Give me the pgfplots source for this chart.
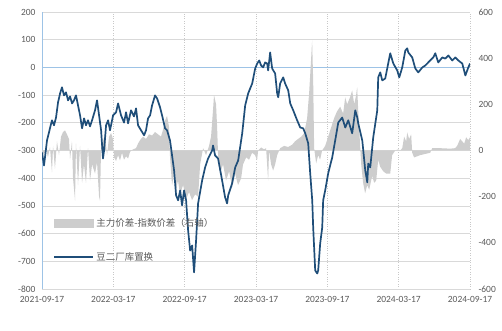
\documentclass[border=0pt]{standalone}
\usepackage{pgfplots}
\pgfplotsset{compat=1.18}
\usepackage{pgfplotstable}
\usepackage{fontspec}
\setmainfont{Carlito}
\newfontfamily\cjk{Noto Sans CJK SC}
\definecolor{lineblue}{HTML}{1F4E79}
\definecolor{areagray}{HTML}{CDCDCD}
\definecolor{gridgray}{HTML}{D9D9D9}
\definecolor{axblue}{HTML}{9DC3E6}
\definecolor{labgray}{HTML}{595959}
\definecolor{dotgray}{HTML}{C8C8C8}

\pgfplotstableread{
m v
0.00 -307
0.17 -354
0.42 -264
0.67 -220
0.84 -191
1.01 -209
1.18 -181
1.35 -126
1.52 -94
1.68 -72
1.85 -101
2.02 -90
2.19 -119
2.36 -105
2.53 -130
2.69 -119
2.86 -101
3.03 -137
3.20 -173
3.37 -220
3.54 -184
3.70 -209
3.87 -191
4.04 -213
4.21 -191
4.46 -155
4.63 -119
4.80 -173
4.97 -227
5.13 -329
5.22 -300
5.39 -209
5.56 -191
5.72 -227
5.98 -173
6.23 -162
6.40 -130
6.65 -173
6.90 -199
7.07 -162
7.24 -202
7.49 -155
7.74 -177
7.91 -148
8.08 -209
8.33 -227
8.59 -245
8.75 -227
8.92 -184
9.09 -173
9.26 -137
9.51 -101
9.68 -112
9.93 -144
10.10 -173
10.35 -220
10.52 -227
10.77 -264
10.94 -318
11.11 -372
11.28 -462
11.45 -480
11.62 -444
11.78 -498
11.95 -444
12.12 -480
12.29 -588
12.46 -661
12.63 -643
12.79 -740
12.96 -625
13.13 -491
13.47 -408
13.72 -361
13.97 -329
14.31 -300
14.39 -282
14.56 -318
14.81 -329
15.15 -408
15.40 -469
15.57 -491
15.66 -462
15.99 -419
16.25 -361
16.50 -336
16.84 -238
17.09 -137
17.34 -94
17.68 -58
17.93 -4
18.10 14
18.27 25
18.43 7
18.60 0
18.77 18
18.94 14
19.02 -11
19.19 54
19.36 -4
19.61 -22
19.78 -94
19.87 -108
20.03 -58
20.29 -36
20.45 -58
20.71 -83
20.88 -130
21.13 -155
21.46 -191
21.72 -217
21.97 -220
22.14 -238
22.39 -274
22.56 -383
22.73 -480
22.81 -578
22.98 -733
23.15 -744
23.23 -733
23.40 -635
23.57 -578
23.65 -480
23.82 -444
24.07 -383
24.41 -325
24.66 -264
24.92 -199
25.25 -181
25.51 -217
25.76 -191
26.09 -238
26.35 -155
26.52 -181
26.60 -202
26.94 -264
27.19 -372
27.36 -415
27.44 -347
27.61 -361
27.86 -253
28.20 -155
28.28 -36
28.45 -18
28.62 -47
28.87 -40
29.12 14
29.29 51
29.55 14
29.88 -11
30.05 -36
30.30 0
30.56 61
30.72 69
30.81 54
31.14 36
31.40 -4
31.65 -18
31.99 0
32.24 7
32.49 18
32.91 36
33.08 51
33.33 18
33.67 36
33.92 32
34.18 43
34.51 25
34.76 36
35.02 25
35.35 14
35.61 -29
35.86 0
36.00 14
}\linedata

\pgfplotstableread{
m r
0.00 0
0.17 -20
0.34 10
0.50 -30
0.67 15
0.84 -95
0.93 20
1.09 -80
1.26 40
1.43 -20
1.60 60
1.77 80
1.94 87
2.10 70
2.27 50
2.36 -40
2.52 40
2.61 -120
2.78 -217
2.86 30
3.03 -150
3.20 20
3.37 -140
3.53 -60
3.70 -140
3.87 10
4.04 -130
4.21 -60
4.46 -100
4.63 -50
4.80 -200
4.88 -217
4.97 20
5.13 40
5.30 70
5.47 -20
5.64 60
5.81 75
5.97 50
6.06 -30
6.23 -45
6.40 -20
6.56 -43
6.73 -10
6.90 -40
7.07 -25
7.24 -35
7.41 -5
7.66 5
7.91 10
8.08 30
8.25 45
8.50 60
8.75 50
9.00 70
9.26 65
9.51 80
9.76 70
10.01 60
10.18 90
10.35 130
10.52 150
10.69 100
10.77 -30
10.94 -150
11.11 -100
11.28 -170
11.44 -130
11.61 -190
11.87 -150
12.12 -210
12.37 -180
12.62 -215
12.88 -190
13.13 -200
13.30 -60
13.55 10
13.80 -20
14.05 20
14.22 60
14.39 180
14.47 240
14.64 200
14.73 100
14.81 -20
14.98 -100
15.23 -60
15.48 -130
15.74 -90
15.99 -160
16.24 -100
16.49 -150
16.75 -120
16.91 -60
17.17 -30
17.42 -40
17.67 -10
17.92 -20
18.09 -43
18.18 0
18.43 13
18.68 5
18.85 10
19.02 -130
19.10 0
19.27 -60
19.44 -87
19.61 -60
19.78 -20
20.03 10
20.37 20
20.70 15
21.04 25
21.29 40
21.54 50
21.80 60
22.05 75
22.30 140
22.47 250
22.64 400
22.72 477
22.81 300
22.89 10
23.06 -56
23.23 -20
23.39 -40
23.56 0
23.82 20
24.07 60
24.32 100
24.57 140
24.82 170
25.08 190
25.33 160
25.50 230
25.67 200
25.92 232
26.09 260
26.26 200
26.42 240
26.51 275
26.59 180
26.76 20
26.85 -60
27.01 -140
27.18 -186
27.35 -150
27.52 -170
27.77 -110
27.94 -140
28.11 -130
28.28 -40
28.44 -70
28.70 -90
28.95 -100
29.29 -100
29.45 -20
29.71 0
29.96 5
30.13 0
30.30 10
30.46 60
30.63 40
30.72 78
30.88 50
31.05 70
31.14 -10
31.30 -30
31.56 -25
31.81 -20
32.23 -15
32.65 -10
32.82 10
33.49 10
34.33 8
34.75 10
34.92 20
35.17 50
35.34 40
35.51 30
35.68 57
35.85 45
36.00 57
36.00 0
}\areadata

\pgfplotsset{
  base/.style={
    scale only axis, width=428bp, height=277bp,
    at={(0,0)}, anchor=south west,
    xmin=0, xmax=36,
    major tick length=0pt,
    tick label style={font=\fontsize{9.5}{11}\selectfont, text=labgray},
  }
}

\begin{document}
\begin{tikzpicture}
\useasboundingbox (-42bp,-42bp) rectangle (460bp,289bp);
% background axis: grid, left ticks, x ticks
\begin{axis}[base,
  ymin=-800, ymax=200,
  ytick={-800,-700,-600,-500,-400,-300,-200,-100,0,100,200},
  yticklabels={-800,-700,-600,-500,-400,-300,-200,-100,0,100,200},
  xtick={0,6,12,18,24,30,36},
  xticklabels={2021-09-17,2022-03-17,2022-09-17,2023-03-17,2023-09-17,2024-03-17,2024-09-17},
  axis x line=bottom, axis y line=left,
  x axis line style={-, draw=gridgray, line width=0.8pt},
  y axis line style={-, draw=axblue, line width=1pt},
  ymajorgrids, xmajorgrids,
  y grid style={gridgray, line width=0.8pt},
  x grid style={dotgray, dotted, line width=0.8pt},
  yticklabel style={xshift=-3bp},
  xticklabel style={yshift=-4bp},
]
\draw[axblue, line width=1pt] (axis cs:0,0) -- (axis cs:36,0);
\end{axis}
% right axis: gray area
\begin{axis}[base,
  ymin=-600, ymax=600,
  ytick={-600,-400,-200,0,200,400,600},
  yticklabels={-600,-400,-200,0,200,400,600},
  axis y line*=right, axis x line=none,
  y axis line style={draw=none},
  yticklabel style={xshift=5bp, anchor=west},
]
\addplot[fill=areagray, draw=none] table[x=m, y=r] {\areadata} -- cycle;
\end{axis}
% line axis
\begin{axis}[base,
  ymin=-800, ymax=200,
  hide axis,
  legend style={at={(11bp,49bp)}, anchor=west, draw=none, fill=none,
    inner sep=0pt, row sep=20bp,
    font=\cjk\fontsize{9.5}{11}\selectfont, text=labgray,
    nodes={inner sep=2.5bp}},
  legend cell align=left,
]
\addlegendimage{legend image code/.code={\fill[areagray] (0bp,-4bp) rectangle (39bp,4bp);}}
\addlegendentry{主力价差-指数价差（右轴）}
\addplot[lineblue, line width=1.7bp, line join=round,
  legend image code/.code={\draw[lineblue, line width=1.7bp] (0bp,0bp) -- (39bp,0bp);}]
  table[x=m, y=v] {\linedata};
\addlegendentry{豆二厂库置换}
\end{axis}
\end{tikzpicture}
\end{document}
